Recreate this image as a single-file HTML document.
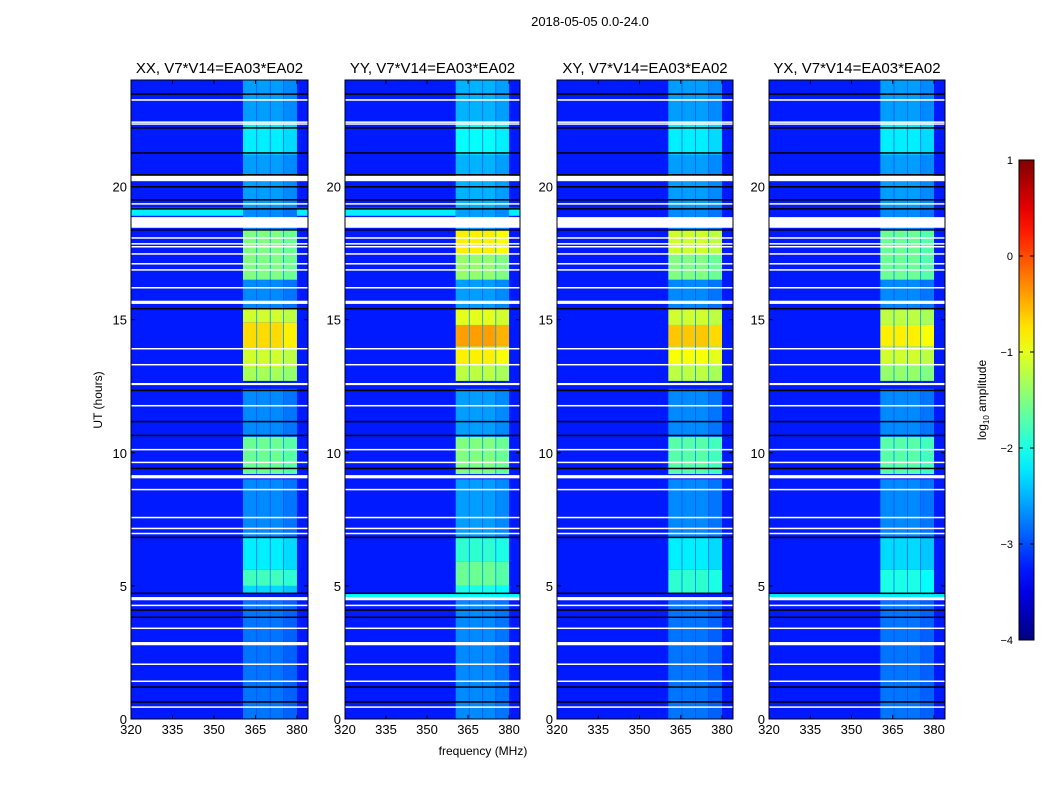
<!DOCTYPE html>
<html><head><meta charset="utf-8">
<style>
body{margin:0;background:#fff;width:1050px;height:800px;overflow:hidden;font-family:"Liberation Sans","DejaVu Sans",sans-serif}
svg text{font-family:"Liberation Sans","DejaVu Sans",sans-serif}
</style></head>
<body>
<svg id="fig" width="1050" height="800" xmlns="http://www.w3.org/2000/svg">
<text x="590" y="26" font-size="13" text-anchor="middle">2018-05-05 0.0-24.0</text>
<text x="483" y="755" font-size="12" text-anchor="middle">frequency (MHz)</text>
<text transform="translate(102,400) rotate(-90)" font-size="12" text-anchor="middle">UT (hours)</text>
<text transform="translate(986,400) rotate(-90)" font-size="12" text-anchor="middle">log<tspan font-size="8" dy="3">10</tspan><tspan dy="-3"> amplitude</tspan></text>
</svg>
<script>
// ---- data ----
const panelTitles = ["XX, V7*V14=EA03*EA02","YY, V7*V14=EA03*EA02","XY, V7*V14=EA03*EA02","YX, V7*V14=EA03*EA02"];
const xTicks = [320,335,350,365,380];
const yTicks = [0,5,10,15,20];
const cbTicks = [1,0,-1,-2,-3,-4];
const backgroundLevel = -3.25;
const gapLevel = -3.0;
const subbands = [[360.5,365.3],[365.6,370.2],[370.5,375.0],[375.3,380.0]];
const bandXX = [[0,4.45,-2.8],[4.7,5.0,-2.3],[5.0,5.6,-1.8],[5.6,6.8,-2.2],[6.8,9.0,-2.7],[9.2,10.6,-1.6],[10.6,12.4,-2.7],[12.7,13.2,-1.3],[13.2,13.9,-1.1],[13.9,14.9,-0.7],[14.9,15.4,-1.1],[15.4,16.5,-2.7],[16.5,18.4,-1.5],[18.4,19.2,-2.7],[19.2,21.2,-2.6],[21.2,22.4,-2.2],[22.4,24,-2.6]];
const bandYY = [[0,4.45,-2.7],[4.7,5.0,-2.0],[5.0,5.9,-1.6],[5.9,6.8,-1.9],[6.8,9.0,-2.6],[9.2,10.6,-1.5],[10.6,12.4,-2.6],[12.7,13.3,-1.2],[13.3,14.0,-0.8],[14.0,14.8,-0.4],[14.8,15.4,-1.0],[15.4,16.5,-2.6],[16.5,17.5,-1.4],[17.5,18.4,-0.8],[18.4,19.2,-2.6],[19.2,21.2,-2.5],[21.2,22.4,-2.1],[22.4,24,-2.5]];
const bandXY = [[0,4.45,-2.8],[4.7,5.6,-1.9],[5.6,6.8,-2.2],[6.8,9.0,-2.7],[9.2,10.6,-1.7],[10.6,12.4,-2.7],[12.7,13.3,-1.2],[13.3,14.0,-0.9],[14.0,14.8,-0.6],[14.8,15.4,-1.1],[15.4,16.5,-2.7],[16.5,17.5,-1.5],[17.5,18.4,-1.1],[18.4,19.2,-2.7],[19.2,21.2,-2.6],[21.2,22.4,-2.2],[22.4,24,-2.6]];
const bandYX = [[0,4.45,-2.8],[4.7,5.6,-2.0],[5.6,6.8,-2.3],[6.8,9.0,-2.7],[9.2,10.6,-1.7],[10.6,12.4,-2.7],[12.7,13.3,-1.4],[13.3,14.0,-1.1],[14.0,14.8,-0.8],[14.8,15.4,-1.2],[15.4,16.5,-2.7],[16.5,18.4,-1.6],[18.4,19.2,-2.7],[19.2,21.2,-2.6],[21.2,22.4,-2.2],[22.4,24,-2.6]];
const bands = [bandXX,bandYY,bandXY,bandYX];
const rowsXX = [[18.9,19.2,-2.2]];
const rowsYY = [[18.9,19.2,-2.2],[4.58,4.72,-2.1]];
const rowsXY = [];
const rowsYX = [[4.58,4.72,-2.2]];
const rows = [rowsXX,rowsYY,rowsXY,rowsYX];
const flagged = [[23.25,0.06],[22.42,0.05],[22.35,0.05],[20.3,0.2],[19.35,0.05],[18.65,0.4],[18.07,0.05],[17.85,0.05],[17.74,0.05],[17.47,0.05],[17.1,0.05],[16.87,0.05],[16.2,0.05],[15.65,0.12],[13.91,0.05],[13.31,0.05],[12.58,0.08],[11.77,0.05],[10.12,0.05],[9.64,0.05],[9.1,0.12],[8.62,0.05],[7.57,0.05],[7.16,0.05],[6.97,0.05],[4.52,0.12],[4.27,0.05],[3.41,0.05],[2.83,0.12],[2.06,0.05],[1.42,0.05],[0.45,0.05]];
const darkRows = [23.47,22.2,21.26,20.44,19.99,19.5,19.16,18.37,15.41,12.34,11.17,10.65,9.41,6.82,4.72,4.09,3.82,1.2,0.64];

// ---- helpers ----
const NS="http://www.w3.org/2000/svg";
const svg=document.getElementById('fig');
function jet(v){
  let n=Math.max(0,Math.min(1,(v+4)/5));
  const c=x=>Math.max(0,Math.min(1,x));
  const r=c(1.5-Math.abs(4*n-3)), g=c(1.5-Math.abs(4*n-2)), b=c(1.5-Math.abs(4*n-1));
  return `rgb(${Math.round(r*255)},${Math.round(g*255)},${Math.round(b*255)})`;
}
function mk(tag,attrs,parent){const e=document.createElementNS(NS,tag);for(const k in attrs)e.setAttribute(k,attrs[k]);(parent||svg).appendChild(e);return e;}
const panelX=[131,345,557,769], panelWs=[177,175,176,176], plotTop=80, plotBottom=719;
const fMin=320,fMax=384,tMin=0,tMax=24;

panelX.forEach((px,pi)=>{
  const panelW=panelWs[pi];
  const g=mk('g',{});
  
  
  const xs=f=>px+(f-fMin)/(fMax-fMin)*panelW;
  const ys=t=>plotBottom-(t-tMin)/(tMax-tMin)*(plotBottom-plotTop);
  const bg=mk('rect',{x:px,y:plotTop,width:panelW,height:plotBottom-plotTop,fill:jet(backgroundLevel)},g);
  
  
  rows[pi].forEach(r=>{
    const e=mk('rect',{x:px,y:ys(r[1]),width:panelW,height:ys(r[0])-ys(r[1]),fill:jet(r[2])},g);
    
    
  });
  bands[pi].forEach(s=>{
    const gp=mk('rect',{x:xs(subbands[0][0]),y:ys(s[1]),width:xs(subbands[3][1])-xs(subbands[0][0]),height:ys(s[0])-ys(s[1]),fill:jet(Math.min(gapLevel+0.3*(s[2]+2.8),-2.6))},g);
    
    
    subbands.forEach((sb,si)=>{
      const e=mk('rect',{x:xs(sb[0]),y:ys(s[1]),width:xs(sb[1])-xs(sb[0]),height:ys(s[0])-ys(s[1]),fill:jet(s[2]-(si==3?0.1:0))},g);
      
      
    });
  });
  flagged.forEach(f=>{
    const e=mk('rect',{x:px,y:ys(f[0]+f[1]/2),width:panelW,height:Math.max(1.5,ys(f[0]-f[1]/2)-ys(f[0]+f[1]/2)),fill:'#fff'},g);
    
    
  });
  darkRows.forEach(t=>{
    const e=mk('rect',{x:px,y:ys(t)-0.75,width:panelW,height:1.5,fill:'#000'},g);
    
    
  });
  const fr=mk('rect',{x:px,y:plotTop,width:panelW,height:plotBottom-plotTop,fill:'none',stroke:'#000','stroke-width':1},g);
  
  
  const tt=mk('text',{x:px+panelW/2,y:73,'font-size':15,'text-anchor':'middle'},g);
  tt.textContent=panelTitles[pi];
  
  
  xTicks.forEach(v=>{
    const x=xs(v);
    mk('line',{x1:x,x2:x,y1:plotBottom,y2:plotBottom-4,stroke:'#000'},g);
    mk('line',{x1:x,x2:x,y1:plotTop,y2:plotTop+4,stroke:'#000'},g);
    const t=mk('text',{x:x,y:plotBottom+15,'font-size':13,'text-anchor':'middle'},g);
    t.textContent=v;
    
    
  });
  yTicks.forEach(v=>{
    const y=ys(v);
    mk('line',{x1:px,x2:px+4,y1:y,y2:y,stroke:'#000'},g);
    mk('line',{x1:px+panelW,x2:px+panelW-4,y1:y,y2:y,stroke:'#000'},g);
    const t=mk('text',{x:px-4,y:y+5,'font-size':13,'text-anchor':'end'},g);
    t.textContent=v;
    
    
  });
});

const cb=mk('g',{});


const cbX=1019,cbW=15,cbTop=160,cbBot=640;
const cs=v=>cbBot-(v+4)/5*(cbBot-cbTop);
const defs=mk('defs',{},cb);
const lg=mk('linearGradient',{id:'jetg',x1:0,y1:1,x2:0,y2:0},defs);
for(let i=0;i<=20;i++){mk('stop',{offset:i/20,'stop-color':jet(-4+5*i/20)},lg);}
mk('rect',{x:cbX,y:cbTop,width:cbW,height:cbBot-cbTop,fill:'url(#jetg)',stroke:'#000'},cb);
cbTicks.forEach(v=>{
  const y=cs(v);
  mk('line',{x1:cbX,x2:cbX+4,y1:y,y2:y,stroke:'#000'},cb);
  mk('line',{x1:cbX+cbW,x2:cbX+cbW-4,y1:y,y2:y,stroke:'#000'},cb);
  const t=mk('text',{x:cbX-6,y:y+4,'font-size':11,'text-anchor':'end'},cb);
  t.textContent=v<0?'\u2212'+(-v):v;
  
  
});
</script>
</body></html>
